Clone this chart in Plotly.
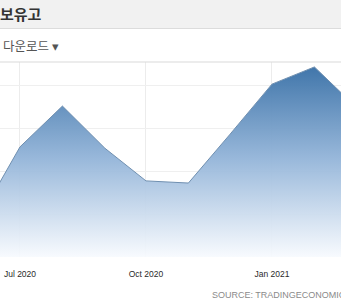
import plotly.graph_objects as go

# Data (monthly, values; y-axis labels are cropped, units arbitrary)
months = ["2020-06-01", "2020-07-01", "2020-08-01", "2020-09-01", "2020-10-01",
          "2020-11-01", "2020-12-01", "2021-01-01", "2021-02-01", "2021-03-01"]
reserves = [8.8, 25.6, 35.1, 25.3, 17.7, 17.2, 28.4, 40.2, 44.2, 35.6]
tick_vals = ["2020-07-01", "2020-10-01", "2021-01-01"]
tick_text = ["Jul 2020", "Oct 2020", "Jan 2021"]
title_text = "보유고"
download_text = "다운로드 ▾"
source_text = "SOURCE: TRADINGECONOMICS.COM"

W, H = 341, 305
T, B = 62, 48
plot_h = H - T - B


def py(pix):
    return (H - B - pix) / plot_h


fig = go.Figure()
fig.add_trace(go.Scatter(
    x=months, y=reserves, mode="lines",
    line=dict(color="#6f8fb0", width=1),
    fill="tozeroy",
    fillgradient=dict(type="vertical",
                      colorscale=[[0, "rgba(247,250,254,0.92)"],
                                  [0.5, "rgba(148,181,217,0.95)"],
                                  [1, "rgba(54,110,165,0.97)"]],
                      start=0, stop=45.3),
    hoverinfo="skip", showlegend=False,
))

fig.update_layout(
    width=W, height=H,
    margin=dict(l=0, r=0, t=T, b=B),
    paper_bgcolor="white", plot_bgcolor="white",
    xaxis=dict(type="date", range=["2020-06-16 10:00", "2021-02-20 10:00"],
               tickvals=tick_vals, ticktext=tick_text,
               showgrid=True, gridcolor="#ececec", gridwidth=1,
               zeroline=False, showline=False, ticks="",
               tickfont=dict(family="Liberation Sans", size=8.5, color="#2a2a2a"),
               ticklabelstandoff=10),
    yaxis=dict(range=[0, 45.35], dtick=10, showgrid=True, gridcolor="#efefef",
               zeroline=False, showticklabels=False, ticks="", showline=False),
    shapes=[
        dict(type="rect", xref="paper", yref="paper", x0=0, x1=1, y0=py(28), y1=py(0),
             fillcolor="#f1f1f1", line=dict(width=0), layer="above"),
        dict(type="line", xref="paper", yref="paper", x0=0, x1=1, y0=py(28.5), y1=py(28.5),
             line=dict(color="#dcdcdc", width=1)),
        dict(type="line", xref="paper", yref="paper", x0=0, x1=1, y0=py(62), y1=py(62),
             line=dict(color="#d9d9d9", width=1)),
    ],
)

fig.add_annotation(text="<b>" + title_text + "</b>", xref="paper", yref="paper",
                   x=0, y=py(13), xanchor="left", yanchor="middle", showarrow=False,
                   xshift=-2, font=dict(family="Noto Sans CJK KR", size=15, color="#333"))
fig.add_annotation(text=download_text, xref="paper", yref="paper",
                   x=0, y=py(45), xanchor="left", yanchor="middle", showarrow=False,
                   xshift=1, font=dict(family="Noto Sans CJK KR", size=12.5, color="#555"))
fig.add_annotation(text=source_text, xref="paper", yref="paper",
                   x=0, y=py(295), xanchor="left", yanchor="middle", showarrow=False,
                   xshift=210, font=dict(family="Liberation Sans", size=9, color="#8a8a8a"))

fig.write_html("out.html")
